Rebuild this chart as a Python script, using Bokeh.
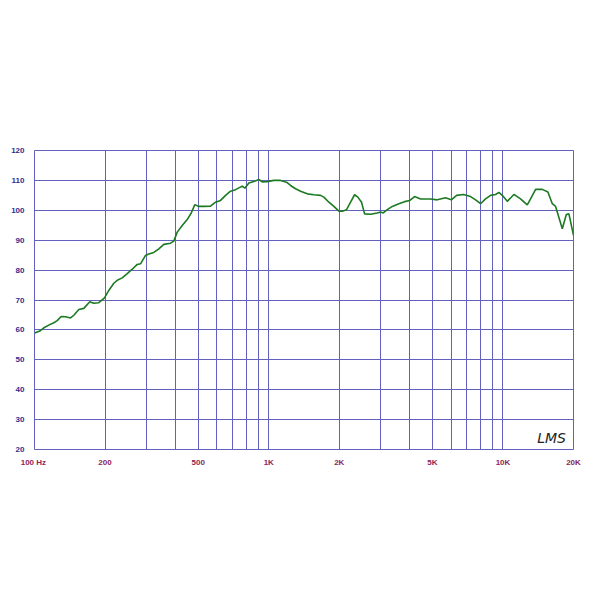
from bokeh.plotting import figure
from bokeh.models import FixedTicker, Label
from bokeh.embed import file_html
from bokeh.resources import INLINE

# Frequency response (Hz, dB SPL)
freq = [100, 105.3, 109.6, 115.1, 120.9, 125.0, 130.0, 135.6, 142.5, 147.2,
        154.6, 162.4, 172.2, 179.1, 188.2, 199, 207.6, 218.1, 226.8, 236.8,
        248.8, 261.4, 274.5, 283.6, 297.8, 307.6, 323.1, 339.4, 356.6, 380.8,
        393.3, 406.7, 427.2, 448.7, 466.8, 483.6, 503, 528.3, 564.3, 592.7,
        622.6, 654, 687, 721.6, 770.7, 790.7, 822.3, 863.8, 907.4, 938.1,
        985.4, 1051, 1123, 1191, 1239, 1301, 1367, 1460, 1558, 1664,
        1719, 1806, 1897, 1993, 2060, 2149, 2235, 2325, 2401, 2490,
        2565, 2721, 2906, 3002, 3083, 3206, 3368, 3594, 3800, 4004,
        4193, 4448, 4908, 5243, 5687, 6015, 6339, 6768, 7272, 7638,
        8023, 8427, 8851, 9299, 9605, 9931, 10432, 11131, 11886, 12695,
        13115, 13779, 14716, 15548, 16236, 16771, 17916, 18637, 19120, 20000]
spl = [59.0, 59.6, 60.7, 61.6, 62.4, 63.1, 64.5, 64.4, 64.0, 64.9,
       66.8, 67.2, 69.4, 68.9, 69.1, 70.7, 73.2, 75.6, 76.7, 77.4,
       78.8, 80.3, 81.9, 82.1, 84.9, 85.4, 85.9, 87.1, 88.6, 89.0,
       89.7, 92.7, 94.9, 96.9, 99.1, 101.9, 101.3, 101.3, 101.4, 102.7,
       103.3, 105.0, 106.4, 106.9, 108.1, 107.4, 109.1, 109.6, 110.3, 109.5,
       109.6, 110.0, 110.0, 109.4, 108.3, 107.2, 106.4, 105.5, 105.2, 105.0,
       104.4, 102.7, 101.3, 99.7, 99.7, 100.2, 102.7, 105.2, 104.4, 102.7,
       98.8, 98.7, 99.1, 99.4, 99.1, 100.2, 101.3, 102.2, 102.9, 103.3,
       104.6, 103.8, 103.8, 103.5, 104.2, 103.5, 105.0, 105.3, 104.6, 103.5,
       102.2, 103.8, 105.0, 105.3, 106.0, 105.0, 103.0, 105.3, 103.8, 101.8,
       103.8, 107.0, 107.0, 106.1, 102.2, 101.3, 93.8, 98.6, 98.8, 91.6]

x_labels = {100: "100  Hz", 200: "200", 500: "500", 1000: "1K", 2000: "2K",
            5000: "5K", 10000: "10K", 20000: "20K"}
x_grid = [100, 200, 300, 400, 500, 600, 700, 800, 900,
          1000, 2000, 3000, 4000, 5000, 6000, 7000, 8000, 9000,
          10000, 20000]
y_ticks = [20, 30, 40, 50, 60, 70, 80, 90, 100, 110, 120]

GRID = "#6262be"
YLAB = "#2e2e8f"
XLAB = "#8e2457"
FONT = "Liberation Sans"

p = figure(frame_width=539, frame_height=299, x_axis_type="log",
           x_range=(100, 20000), y_range=(20, 120),
           output_backend="svg", toolbar_location=None,
           min_border_left=34, min_border_right=27,
           min_border_top=150, min_border_bottom=151)
p.background_fill_color = "white"
p.border_fill_color = "white"
p.outline_line_color = GRID
p.outline_line_width = 1

# axes
p.xaxis.ticker = FixedTicker(ticks=list(x_labels.keys()))
p.xaxis.major_label_overrides = dict(x_labels)
p.yaxis.ticker = FixedTicker(ticks=y_ticks)
for ax in (p.xaxis[0], p.yaxis[0]):
    ax.axis_line_color = None
    ax.major_tick_line_color = None
    ax.minor_tick_line_color = None
    ax.major_label_text_font = FONT
    ax.major_label_text_font_style = "bold"
    ax.major_label_text_font_size = "8px"
p.xaxis.major_label_text_color = XLAB
p.xaxis.major_label_standoff = 2
p.yaxis.major_label_text_color = YLAB
p.yaxis.major_label_standoff = 4

# grid
p.xgrid.ticker = FixedTicker(ticks=x_grid)
p.ygrid.ticker = FixedTicker(ticks=y_ticks)
for g in (p.xgrid[0], p.ygrid[0]):
    g.grid_line_color = GRID
    g.grid_line_width = 1
    g.grid_line_alpha = 1

p.line(freq, spl, line_color="#1c7a22", line_width=1.6)

p.add_layout(Label(x=100, y=120, y_offset=2, text="dBSPL",
                   text_font=FONT, text_font_style="bold",
                   text_font_size="8px", text_color=YLAB,
                   text_baseline="bottom", text_align="left"))
p.add_layout(Label(x=14000, y=21.3, text="LMS",
                   text_font="DejaVu Sans", text_font_style="italic",
                   text_font_size="14px", text_color="#222222",
                   text_baseline="bottom", text_align="left"))

open("out.html", "w").write(file_html(p, INLINE))
